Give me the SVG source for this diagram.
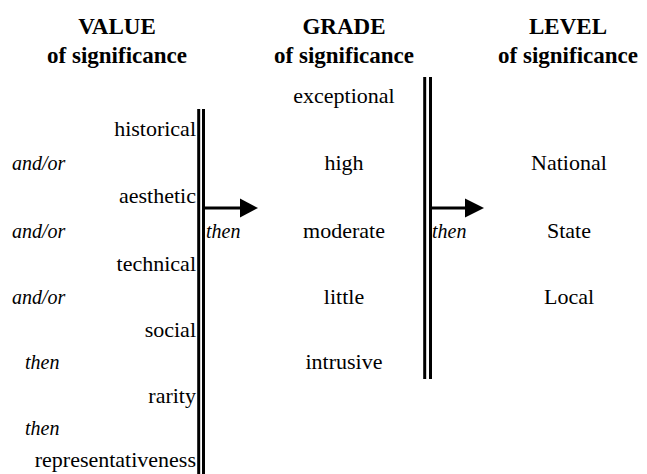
<svg xmlns="http://www.w3.org/2000/svg" width="647" height="474" viewBox="0 0 647 474" font-family="'Liberation Serif', 'DejaVu Serif', serif">
<style>
text{font-family:'Liberation Serif','DejaVu Serif',serif;fill:#000}
.h{font-size:23px;font-weight:bold;text-anchor:middle}
.t{font-size:22px}
.r{text-anchor:end}
.c{text-anchor:middle}
.i{font-style:italic;font-size:20px}
.bar{stroke:#000;stroke-width:3;fill:none}
.arr{stroke:#000;stroke-width:3;fill:none}
</style>
<rect width="647" height="474" fill="#fff"/>
<g id="headers">
<g id="h-value"><text class="h" x="117" y="34">VALUE</text><text class="h" x="117" y="63">of significance</text></g>
<g id="h-grade"><text class="h" x="344" y="34">GRADE</text><text class="h" x="344" y="63">of significance</text></g>
<g id="h-level"><text class="h" x="568" y="34">LEVEL</text><text class="h" x="568" y="63">of significance</text></g>
</g>
<g id="value-column">
<g id="v-historical"><text class="t r" x="196" y="136">historical</text></g>
<g id="v-andor1"><text class="i" x="12" y="170">and/or</text></g>
<g id="v-aesthetic"><text class="t r" x="196" y="203">aesthetic</text></g>
<g id="v-andor2"><text class="i" x="12" y="238">and/or</text></g>
<g id="v-technical"><text class="t r" x="196" y="271">technical</text></g>
<g id="v-andor3"><text class="i" x="12" y="304">and/or</text></g>
<g id="v-social"><text class="t r" x="196" y="337">social</text></g>
<g id="v-then1"><text class="i" x="25" y="369">then</text></g>
<g id="v-rarity"><text class="t r" x="196" y="403">rarity</text></g>
<g id="v-then2"><text class="i" x="25" y="435">then</text></g>
<g id="v-representativeness"><text class="t r" x="196" y="467">representativeness</text></g>
</g>
<g id="grade-column">
<g id="g-exceptional"><text class="t c" x="344" y="103">exceptional</text></g>
<g id="g-high"><text class="t c" x="344" y="170">high</text></g>
<g id="g-moderate"><text class="t c" x="344" y="238">moderate</text></g>
<g id="g-little"><text class="t c" x="344" y="304">little</text></g>
<g id="g-intrusive"><text class="t c" x="344" y="369">intrusive</text></g>
</g>
<g id="level-column">
<g id="l-national"><text class="t c" x="569" y="170">National</text></g>
<g id="l-state"><text class="t c" x="569" y="238">State</text></g>
<g id="l-local"><text class="t c" x="569" y="304">Local</text></g>
</g>
<g id="dividers">
<line class="bar" x1="198.7" y1="109" x2="198.7" y2="474"/>
<line class="bar" x1="203.5" y1="109" x2="203.5" y2="474"/>
<line class="bar" x1="424.7" y1="77" x2="424.7" y2="379"/>
<line class="bar" x1="430.5" y1="77" x2="430.5" y2="379"/>
</g>
<g id="connectors">
<line class="arr" x1="202" y1="208" x2="241" y2="208"/>
<polygon points="240,198.5 258,208 240,217.5" fill="#000"/>
<text class="i" x="206" y="238">then</text>
<line class="arr" x1="429" y1="208" x2="466" y2="208"/>
<polygon points="465,198.5 484,208 465,217.5" fill="#000"/>
<text class="i" x="432" y="238">then</text>
</g>
</svg>
